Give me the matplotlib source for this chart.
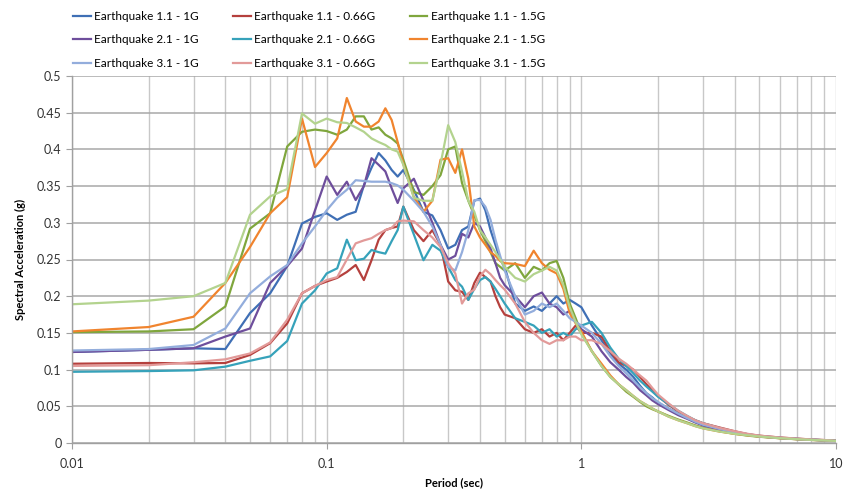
import numpy as np
import matplotlib
matplotlib.use("Agg")
import matplotlib.pyplot as plt
from matplotlib.ticker import FixedLocator, LogLocator, NullFormatter, FuncFormatter

matplotlib.rcParams.update({'font.size': 9, 'font.family': ['Lato', 'DejaVu Sans']})

# periods (sec)
period = [0.01, 0.02, 0.03, 0.04, 0.05, 0.06, 0.07, 0.08, 0.09, 0.10,
          0.11, 0.12, 0.13, 0.14, 0.15, 0.16, 0.17, 0.18, 0.19, 0.20,
          0.22, 0.24, 0.26, 0.28, 0.30, 0.32, 0.34, 0.36, 0.38, 0.40,
          0.42, 0.44, 0.46, 0.48, 0.50, 0.55, 0.60, 0.65, 0.70, 0.75,
          0.80, 0.85, 0.90, 0.95, 1.0, 1.1, 1.2, 1.3, 1.4, 1.5,
          1.6, 1.7, 1.8, 1.9, 2.0, 2.2, 2.4, 2.6, 2.8, 3.0,
          3.5, 4.0, 4.5, 5.0, 6.0, 7.0, 8.0, 9.0, 10.0]

# spectral acceleration (g)
eq11_1g = [.124, .127, .129, .128, .177, .204, .241, .299, .308, .313,
           .304, .311, .315, .351, .375, .395, .385, .372, .363, .372,
           .345, .315, .310, .290, .265, .270, .290, .295, .330, .333,
           .317, .290, .270, .250, .240, .190, .180, .186, .180, .190,
           .200, .190, .195, .190, .185, .160, .140, .122, .108, .100,
           .090, .078, .068, .062, .055, .047, .040, .034, .029, .025,
           .019, .014, .011, .009, .007, .0055, .0045, .0037, .003]
eq11_066g = [.108, .109, .1085, .109, .120, .136, .163, .204, .214, .220,
             .225, .233, .2425, .222, .249, .277, .290, .293, .295, .322,
             .290, .275, .290, .270, .220, .208, .206, .195, .218, .232,
             .226, .220, .200, .185, .175, .170, .155, .150, .155, .145,
             .150, .140, .150, .160, .150, .150, .145, .125, .110, .105,
             .100, .090, .080, .072, .064, .052, .043, .036, .031, .027,
             .021, .016, .012, .010, .0075, .006, .0048, .004, .003]
eq11_15g = [.151, .152, .155, .186, .292, .313, .404, .424, .427, .425,
            .420, .427, .445, .445, .427, .430, .420, .415, .408, .386,
            .342, .338, .350, .365, .400, .404, .354, .330, .310, .290,
            .275, .260, .245, .240, .235, .245, .225, .240, .235, .245,
            .248, .225, .190, .170, .150, .125, .105, .090, .080, .070,
            .063, .056, .050, .046, .043, .037, .032, .028, .024, .021,
            .016, .0125, .010, .0085, .0065, .0052, .0042, .0035, .003]
eq21_1g = [.124, .127, .129, .145, .156, .218, .241, .265, .317, .363,
           .338, .356, .331, .350, .388, .379, .370, .347, .327, .347,
           .360, .330, .300, .270, .250, .255, .285, .280, .300, .295,
           .280, .265, .245, .225, .215, .200, .185, .200, .205, .190,
           .185, .175, .180, .165, .155, .145, .125, .110, .100, .090,
           .082, .072, .065, .058, .053, .045, .038, .033, .028, .024,
           .018, .014, .011, .009, .0068, .0054, .0044, .0036, .003]
eq21_066g = [.097, .098, .099, .104, .112, .118, .139, .190, .208, .231,
             .238, .277, .249, .251, .263, .260, .258, .275, .290, .322,
             .284, .249, .270, .262, .240, .222, .213, .195, .210, .222,
             .226, .220, .210, .200, .190, .170, .165, .160, .150, .155,
             .145, .150, .145, .155, .160, .165, .150, .130, .115, .105,
             .095, .085, .077, .070, .063, .053, .044, .037, .031, .027,
             .020, .015, .012, .0095, .007, .0057, .0046, .0038, .003]
eq21_15g = [.152, .158, .172, .218, .267, .313, .335, .442, .376, .395,
            .415, .470, .438, .431, .431, .438, .456, .440, .410, .380,
            .335, .315, .330, .386, .388, .368, .400, .360, .295, .280,
            .270, .260, .255, .248, .245, .244, .241, .262, .245, .236,
            .231, .210, .177, .163, .152, .125, .108, .092, .080, .072,
            .064, .057, .052, .047, .043, .036, .031, .027, .023, .020,
            .0155, .0125, .0105, .0088, .0066, .0052, .0042, .0035, .0028]
eq31_1g = [.126, .128, .1335, .156, .204, .227, .2425, .272, .295, .317,
           .334, .345, .358, .357, .356, .356, .356, .354, .351, .345,
           .330, .315, .295, .270, .240, .235, .260, .290, .331, .331,
           .322, .304, .277, .255, .235, .200, .175, .180, .190, .185,
           .190, .180, .170, .165, .160, .150, .135, .118, .105, .095,
           .085, .076, .068, .061, .056, .047, .040, .034, .029, .025,
           .019, .0145, .0115, .0093, .007, .0055, .0045, .0037, .003]
eq31_066g = [.105, .106, .110, .114, .122, .137, .168, .204, .214, .222,
             .226, .250, .272, .276, .279, .285, .290, .293, .302, .303,
             .302, .290, .280, .267, .245, .231, .190, .204, .209, .227,
             .236, .230, .222, .215, .209, .190, .165, .150, .140, .135,
             .140, .140, .145, .145, .140, .140, .135, .125, .115, .108,
             .100, .092, .085, .075, .066, .054, .044, .037, .031, .027,
             .0205, .016, .0125, .010, .0075, .006, .0048, .004, .003]
eq31_15g = [.189, .194, .200, .218, .311, .336, .346, .449, .435, .442,
            .437, .436, .430, .424, .415, .410, .406, .400, .397, .379,
            .334, .330, .330, .380, .433, .410, .370, .330, .315, .290,
            .280, .270, .260, .250, .240, .225, .220, .230, .235, .240,
            .235, .215, .185, .165, .148, .125, .105, .090, .080, .072,
            .064, .057, .052, .047, .043, .036, .031, .027, .023, .020,
            .0155, .0125, .0105, .0088, .0066, .0052, .0042, .0035, .0028]

labels = ["Earthquake 1.1 - 1G", "Earthquake 1.1 - 0.66G", "Earthquake 1.1 - 1.5G",
          "Earthquake 2.1 - 1G", "Earthquake 2.1 - 0.66G", "Earthquake 2.1 - 1.5G",
          "Earthquake 3.1 - 1G", "Earthquake 3.1 - 0.66G", "Earthquake 3.1 - 1.5G"]
series = [eq11_1g, eq11_066g, eq11_15g, eq21_1g, eq21_066g, eq21_15g,
          eq31_1g, eq31_066g, eq31_15g]
colors = ["#3F6FB5", "#B5403D", "#7FA63D", "#6E4E9C", "#36A2BA", "#F0842E",
          "#93ADDC", "#E29A99", "#B3D38E"]

fig = plt.figure(figsize=(8.44, 4.92), dpi=100)
ax = fig.add_axes([72/844, 1-443/492, 764/844, 367/492])

lines = []
for y, lab, c in zip(series, labels, colors):
    l, = ax.plot(period, y, color=c, lw=1.6, label=lab)
    lines.append(l)

ax.set_xscale('log')
ax.set_xlim(0.01, 10)
ax.set_ylim(0, 0.5)
ax.set_yticks(np.arange(0, 0.501, 0.05))
ax.yaxis.set_major_formatter(FuncFormatter(lambda v, p: "%g" % round(v, 2)))
ax.xaxis.set_major_locator(FixedLocator([0.01, 0.1, 1, 10]))
ax.xaxis.set_major_formatter(FuncFormatter(lambda v, p: "%g" % v))
ax.xaxis.set_minor_locator(LogLocator(base=10, subs=np.arange(2, 10)))
ax.xaxis.set_minor_formatter(NullFormatter())

ax.grid(True, which='major', axis='y', color='#a8a8a8', lw=1.1)
ax.grid(True, which='both', axis='x', color='#c8c8c8', lw=1.0)
ax.set_axisbelow(True)
for s in ['top', 'right']:
    ax.spines[s].set_visible(False)
for s in ['left', 'bottom']:
    ax.spines[s].set_color('#a0a0a0')
    ax.spines[s].set_linewidth(1.0)
ax.tick_params(axis='both', which='major', direction='out', length=4, color='#a0a0a0',
               labelsize=9, labelcolor='#333333')
ax.tick_params(axis='x', which='minor', length=0)
ax.tick_params(axis='x', pad=7)

ax.set_ylabel("Spectral Acceleration (g)", fontsize=8, fontweight='bold', labelpad=8)
ax.set_xlabel("Period (sec)", fontsize=8, fontweight='bold', labelpad=5)

# legend laid out row by row
order = [0, 3, 6, 1, 4, 7, 2, 5, 8]
fig.legend([lines[i] for i in order], [labels[i] for i in order], ncol=3,
           loc='upper left', bbox_to_anchor=(73/844, 1 - 11/492), frameon=False,
           borderpad=0, borderaxespad=0,
           fontsize=8.5, handlelength=1.5, handletextpad=0.3, columnspacing=2.9,
           labelspacing=1.05)

plt.savefig("out.png", dpi=100)
